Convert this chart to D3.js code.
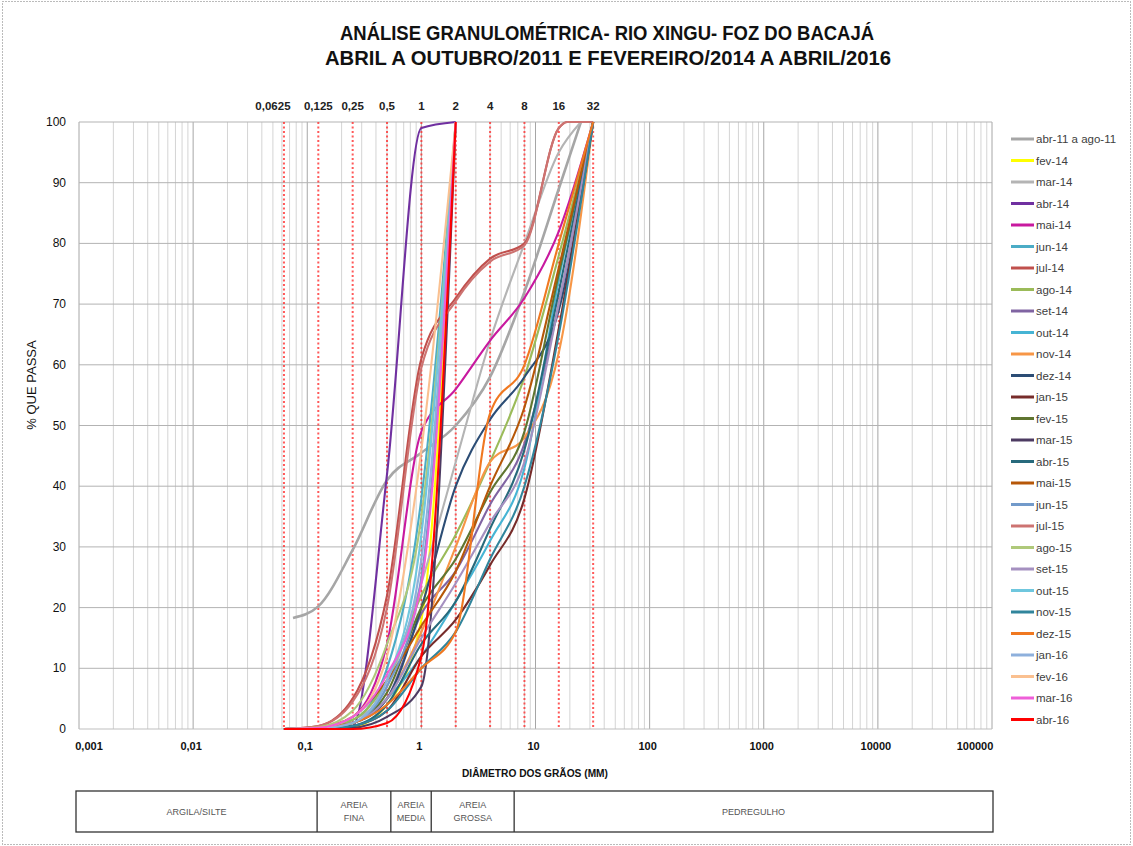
<!DOCTYPE html>
<html lang="pt">
<head>
<meta charset="utf-8">
<script src="https://d3js.org/d3.v7.min.js"></script>
<title>Análise granulométrica - Rio Xingu - Foz do Bacajá</title>
<style>
  body { margin: 0; background: #fff; }
  svg text { font-family: "Liberation Sans", Arial, sans-serif; }
</style>
</head>
<body>
<div id="chart"></div>
<script>
// peneiras (mm) usadas nas curvas
var SIEVE_MM = [0.0625, 0.075, 0.125, 0.25, 0.5, 1, 2, 4, 8, 16, 19, 25, 32];

// % que passa em cada peneira (null = sem ponto)
var abr11 = [null, 18.3, 20.2, 29.5, 41, 45.5, 50, 58, 72, 89, null, 100, null];
var fev14 = [0, null, 0, 0.3, 4, 18, 100, null, null, null, null, null, null];
var mar14 = [0, null, 0.3, 1.5, 7, 24, 44, 64, 80, 95, null, 100, null];
var abr14 = [0, null, 0, 0.5, 42, 99, 100, null, null, null, null, null, null];
var mai14 = [0, null, 0.2, 2, 14, 49, 56, 64, 71, 82, null, null, 100];
var jun14 = [0, null, 0.2, 1.5, 10, 38, 100, null, null, null, null, null, null];
var jul14 = [0, null, 0.5, 5, 22, 61, 71, 77.5, 80, 99, 100, null, 100];
var ago14 = [0, null, 0.2, 1.5, 8, 22, 32, 44, 58, 78, null, null, 100];
var set14 = [0, null, 0.2, 1, 5, 19, 26, 37, 47, 70, null, null, 100];
var out14 = [0, null, 0.2, 1, 5, 12, 21, 31, 43, 74, null, null, 100];
var nov14 = [0, null, 0.2, 1, 5, 16, 30, 44, 48, 62, null, null, 100];
var dez14 = [0, null, 0.2, 1, 5, 20, 40, 51, 58, 69, null, null, 100];
var jan15 = [0, null, 0, 0.5, 3, 12, 18, 27, 38, 66, null, null, 100];
var fev15 = [0, null, 0.2, 1, 6, 20, 28, 39, 49, 75, null, null, 100];
var mar15 = [0, null, 0, 0.2, 2, 7, 100, null, null, null, null, null, null];
var abr15 = [0, null, 0, 0.5, 4, 14, 21, 33, 46, 72, null, null, 100];
var mai15 = [0, null, 0.3, 2, 8, 17, 26, 40, 53, 76, null, null, 100];
var jun15 = [0, null, 0.1, 1, 7, 25, 100, null, null, null, null, null, null];
var jul15 = [0, null, 0.5, 4.5, 20, 59.5, 70.5, 77, 79.7, 99, 100, null, 100];
var ago15 = [0, null, 0.3, 3, 14, 35, 100, null, null, null, null, null, null];
var set15 = [0, null, 0.2, 1, 5, 15, 24, 34, 44, 70, null, null, 100];
var out15 = [0, null, 0.1, 1, 8, 32, 100, null, null, null, null, null, null];
var nov15 = [0, null, 0, 0.5, 3, 10, 16, 28, 40, 65, null, null, 100];
var dez15 = [0, null, 0.2, 1, 4, 10, 16, 52, 60, 80, null, null, 100];
var jan16 = [0, null, 0.1, 1, 8, 28, 100, null, null, null, null, null, null];
var fev16 = [0, null, 0.2, 2, 12, 46, 100, null, null, null, null, null, null];
var mar16 = [0, null, 0.2, 2, 9, 24, 100, null, null, null, null, null, null];
var abr16 = [0, null, 0, 0, 1, 12, 100, null, null, null, null, null, null];

var SERIES_NAMES = ["abr-11 a ago-11", "fev-14", "mar-14", "abr-14", "mai-14", "jun-14", "jul-14",
  "ago-14", "set-14", "out-14", "nov-14", "dez-14", "jan-15", "fev-15", "mar-15", "abr-15",
  "mai-15", "jun-15", "jul-15", "ago-15", "set-15", "out-15", "nov-15", "dez-15", "jan-16",
  "fev-16", "mar-16", "abr-16"];
var SERIES_VALUES = [abr11, fev14, mar14, abr14, mai14, jun14, jul14, ago14, set14, out14, nov14,
  dez14, jan15, fev15, mar15, abr15, mai15, jun15, jul15, ago15, set15, out15, nov15, dez15,
  jan16, fev16, mar16, abr16];
var SERIES_COLORS = ["#a6a6a6", "#ffff00", "#b4b4b4", "#7030a0", "#c8199f", "#4bacc6", "#c0504d",
  "#9bbb59", "#8064a2", "#46b4d4", "#f79646", "#2c4d75", "#772c2a", "#5f7530", "#4d3b62",
  "#276a7c", "#b65708", "#729aca", "#cd7371", "#afc97a", "#a590c0", "#6fc7de", "#31859c",
  "#f07820", "#8eb0dc", "#fac090", "#ee5fd8", "#ff0000"];

// eixos / rótulos
var X_TICKS = [0.001, 0.01, 0.1, 1, 10, 100, 1000, 10000, 100000];
var X_TICK_LABELS = ["0,001", "0,01", "0,1", "1", "10", "100", "1000", "10000", "100000"];
var Y_TICKS = [0, 10, 20, 30, 40, 50, 60, 70, 80, 90, 100];
var REF_MM = [0.0625, 0.125, 0.25, 0.5, 1, 2, 4, 8, 16, 32];
var REF_LABELS = ["0,0625", "0,125", "0,25", "0,5", "1", "2", "4", "8", "16", "32"];
var CLASS_NAMES = [["ARGILA/SILTE"], ["AREIA", "FINA"], ["AREIA", "MEDIA"], ["AREIA", "GROSSA"], ["PEDREGULHO"]];
var CLASS_EDGES_MM = [0.001, 0.122, 0.54, 1.22, 6.5, 100000];

var W = 1133, H = 846;
var plot = {left: 79, right: 992, top: 122, bottom: 729};

var svg = d3.select("#chart").append("svg")
    .attr("width", W).attr("height", H);

// moldura pontilhada
svg.append("rect")
    .attr("x", 2.5).attr("y", 1.5).attr("width", W - 5).attr("height", H - 3)
    .attr("fill", "none").attr("stroke", "#777").attr("stroke-dasharray", "1 2");

var x = d3.scaleLog().domain([0.001, 100000]).range([plot.left, plot.right]);
var y = d3.scaleLinear().domain([0, 100]).range([plot.bottom, plot.top]);

// grade vertical (log)
var grid = svg.append("g");
for (var k = -3; k <= 4; k++) {
    for (var m = 1; m <= 9; m++) {
        var v = m * Math.pow(10, k);
        grid.append("line")
            .attr("x1", x(v)).attr("x2", x(v)).attr("y1", plot.top).attr("y2", plot.bottom)
            .attr("stroke", m == 1 ? "#a6a6a6" : "#d4d4d4").attr("stroke-width", 1);
    }
}
grid.append("line")
    .attr("x1", x(100000)).attr("x2", x(100000)).attr("y1", plot.top).attr("y2", plot.bottom)
    .attr("stroke", "#a6a6a6");
// grade horizontal
grid.selectAll("line.h").data(Y_TICKS).enter().append("line")
    .attr("class", "h")
    .attr("x1", plot.left).attr("x2", plot.right)
    .attr("y1", function(d){return y(d);}).attr("y2", function(d){return y(d);})
    .attr("stroke", d => d == 0 ? "#bfbfbf" : "#b3b3b3").attr("stroke-width", 1);

// linhas vermelhas pontilhadas das peneiras
svg.append("g").selectAll("line").data(REF_MM).enter().append("line")
    .attr("x1", d => x(d)).attr("x2", d => x(d))
    .attr("y1", plot.top).attr("y2", plot.bottom)
    .attr("stroke", "#ff3030").attr("stroke-width", 2)
    .attr("stroke-dasharray", "2 2.5").attr("opacity", 0.8);

// rótulos das peneiras no topo
svg.append("g").selectAll("text").data(REF_MM).enter().append("text")
    .attr("x", (d, i) => x(d) + (i == 0 ? -11 : 0)).attr("y", 110)
    .attr("text-anchor", "middle")
    .style("font-size", "11.5px").style("font-weight", "bold").style("fill", "#222")
    .text((d, i) => REF_LABELS[i]);

// eixo Y
svg.append("g").selectAll("text").data(Y_TICKS).enter().append("text")
    .attr("x", 66).attr("y", d => y(d) + 4)
    .attr("text-anchor", "end")
    .style("font-size", "12px").style("fill", "#111")
    .text(d => d);

// eixo X
svg.append("g").selectAll("text").data(X_TICKS).enter().append("text")
    .attr("x", d => Math.max(plot.left + 10, Math.min(plot.right - 17, x(d) - 2)))
    .attr("y", 750)
    .attr("text-anchor", "middle")
    .style("font-size", "11px").style("font-weight", "bold").style("fill", "#111")
    .style("font-stretch", "condensed")
    .text((d, i) => X_TICK_LABELS[i]);

// títulos
svg.append("text").attr("x", 607).attr("y", 40).attr("text-anchor", "middle")
    .attr("textLength", 534).attr("lengthAdjust", "spacingAndGlyphs")
    .style("font-size", "20px").style("font-weight", "bold").style("fill", "#111")
    .text("ANÁLISE GRANULOMÉTRICA- RIO XINGU- FOZ DO BACAJÁ");
svg.append("text").attr("x", 608).attr("y", 65).attr("text-anchor", "middle")
    .attr("textLength", 566).attr("lengthAdjust", "spacingAndGlyphs")
    .style("font-size", "20px").style("font-weight", "bold").style("fill", "#111")
    .text("ABRIL A OUTUBRO/2011 E FEVEREIRO/2014 A ABRIL/2016");

svg.append("text").attr("x", 535).attr("y", 777).attr("text-anchor", "middle")
    .attr("textLength", 146).attr("lengthAdjust", "spacingAndGlyphs")
    .style("font-size", "11px").style("font-weight", "bold").style("fill", "#111")
    .text("DIÂMETRO DOS GRÃOS (MM)");

svg.append("text")
    .attr("transform", "translate(36,385) rotate(-90)")
    .attr("text-anchor", "middle")
    .style("font-size", "13px").style("fill", "#111")
    .text("% QUE PASSA");

// curvas granulométricas
var line = d3.line()
    .x(d => x(d[0])).y(d => y(d[1]))
    .curve(d3.curveMonotoneX);

var curves = svg.append("g").attr("fill", "none");
SERIES_VALUES.forEach(function(vals, i) {
    var pts = [];
    vals.forEach(function(v, j) { if (v !== null) pts.push([SIEVE_MM[j], v]); });
    curves.append("path")
        .attr("d", line(pts))
        .attr("stroke", SERIES_COLORS[i])
        .attr("stroke-width", i == 0 ? 2.6 : 2.1)
        .attr("stroke-linejoin", "round");
});

// legenda
var leg = svg.append("g").selectAll("g").data(SERIES_NAMES).enter().append("g")
    .attr("transform", (d, i) => "translate(1011," + (139 + i * 21.5) + ")");
leg.append("line").attr("x1", 0).attr("x2", 23)
    .attr("stroke", (d, i) => SERIES_COLORS[i]).attr("stroke-width", 3);
leg.append("text").attr("x", 25).attr("y", 4)
    .style("font-size", "11.5px").style("fill", "#404040")
    .text(d => d);

// tabela de classes
var tb = svg.append("g");
var ty0 = 791, ty1 = 832;
var edgesPx = CLASS_EDGES_MM.map(function(d, i) {
    if (i == 0) return x(d) - 3;
    if (i == CLASS_EDGES_MM.length - 1) return x(d) + 1;
    return x(d);
});
tb.append("rect").attr("x", edgesPx[0]).attr("y", ty0)
    .attr("width", edgesPx[edgesPx.length - 1] - edgesPx[0]).attr("height", ty1 - ty0)
    .attr("fill", "none").attr("stroke", "#333").attr("stroke-width", 1.3);
edgesPx.slice(1, -1).forEach(function(px) {
    tb.append("line").attr("x1", px).attr("x2", px).attr("y1", ty0).attr("y2", ty1)
        .attr("stroke", "#333").attr("stroke-width", 1.3);
});
CLASS_NAMES.forEach(function(lines, i) {
    var cx = (edgesPx[i] + edgesPx[i + 1]) / 2;
    var t = tb.append("text").attr("text-anchor", "middle")
        .style("font-size", "9px").style("fill", "#555");
    lines.forEach(function(s, j) {
        t.append("tspan").attr("x", cx)
            .attr("y", (ty0 + ty1) / 2 + 3 + (j - (lines.length - 1) / 2) * 13)
            .text(s);
    });
});
</script>
</body>
</html>
